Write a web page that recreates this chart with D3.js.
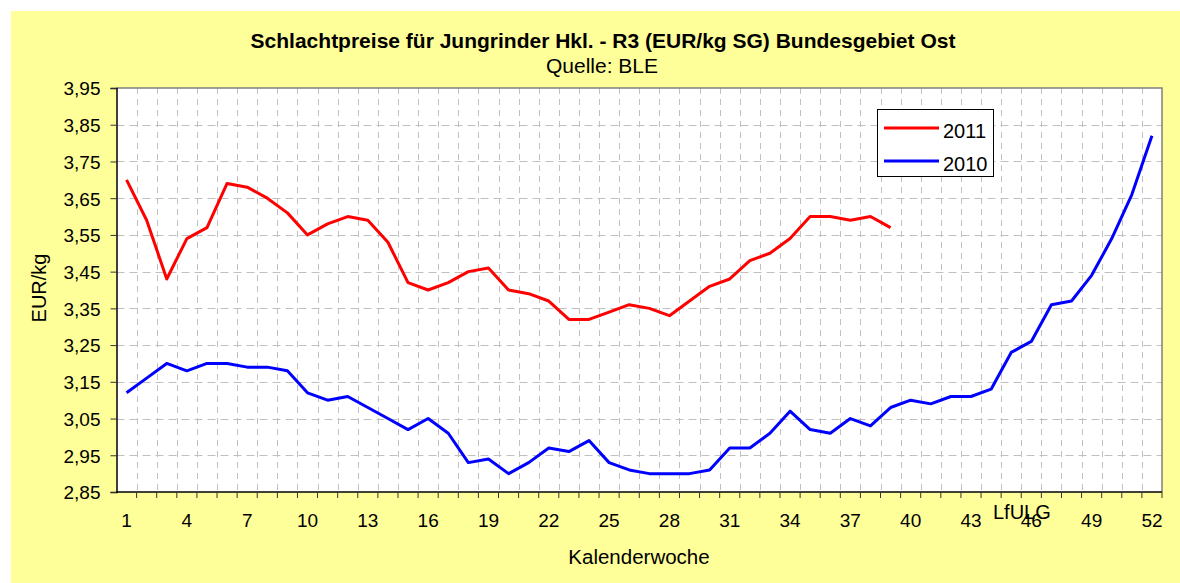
<!DOCTYPE html>
<html>
<head>
<meta charset="utf-8">
<script src="https://cdn.jsdelivr.net/npm/d3@7"></script>
<style>
  body { margin: 0; background: #fff; }
  svg text { font-family: "Liberation Sans", Arial, sans-serif; fill: #000; }
</style>
</head>
<body>
<script>
"use strict";

// Kalenderwochen 1..52
const weeks = [1,2,3,4,5,6,7,8,9,10,11,12,13,14,15,16,17,18,19,20,21,22,23,24,25,26,
  27,28,29,30,31,32,33,34,35,36,37,38,39,40,41,42,43,44,45,46,47,48,49,50,51,52];
const weekLabels = [1,4,7,10,13,16,19,22,25,28,31,34,37,40,43,46,49,52];
const yTicks = [2.85,2.95,3.05,3.15,3.25,3.35,3.45,3.55,3.65,3.75,3.85,3.95];

// EUR/kg SG
const prices2011 = [3.70,3.59,3.43,3.54,3.57,3.69,3.68,3.65,3.61,3.55,3.58,3.60,3.59,
  3.53,3.42,3.40,3.42,3.45,3.46,3.40,3.39,3.37,3.32,3.32,3.34,3.36,3.35,3.33,3.37,
  3.41,3.43,3.48,3.50,3.54,3.60,3.60,3.59,3.60,3.57];
const prices2010 = [3.12,3.16,3.20,3.18,3.20,3.20,3.19,3.19,3.18,3.12,3.10,3.11,3.08,
  3.05,3.02,3.05,3.01,2.93,2.94,2.90,2.93,2.97,2.96,2.99,2.93,2.91,2.90,2.90,2.90,
  2.91,2.97,2.97,3.01,3.07,3.02,3.01,3.05,3.03,3.08,3.10,3.09,3.11,3.11,3.13,3.23,
  3.26,3.36,3.37,3.44,3.54,3.66,3.82];

const W = 1180, H = 583;
const pLeft = 116.5, pRight = 1162, pTop = 88, pBottom = 492;

const svg = d3.select("body").append("svg")
  .attr("width", W).attr("height", H);

// chart background
svg.append("rect").attr("x", 11).attr("y", 11)
  .attr("width", W - 11).attr("height", H - 11)
  .attr("fill", "#FFFF99");

svg.append("rect").attr("x", pLeft).attr("y", pTop)
  .attr("width", pRight - pLeft).attr("height", pBottom - pTop)
  .attr("fill", "#fff");

const x = d3.scaleBand().domain(weeks).range([pLeft, pRight]).padding(0);
const bw = x.bandwidth();
const y = d3.scaleLinear().domain([2.85, 3.95]).range([pBottom, pTop]);

const de = d3.formatLocale({decimal: ",", thousands: ".", grouping: [3], currency: ["", " €"]});
const fmt = de.format(".2f");

// gridlines
svg.append("g").selectAll("line")
  .data(weeks.slice(1))
  .join("line")
  .attr("x1", d => Math.round(x(d)) + 0.5).attr("x2", d => Math.round(x(d)) + 0.5)
  .attr("y1", pTop).attr("y2", pBottom)
  .attr("stroke", "#c0c0c0").attr("stroke-width", 1)
  .attr("stroke-dasharray", "6,5");

svg.append("g").selectAll("line")
  .data(yTicks.slice(1, -1))
  .join("line")
  .attr("x1", pLeft).attr("x2", pRight)
  .attr("y1", d => Math.round(y(d)) + 0.5).attr("y2", d => Math.round(y(d)) + 0.5)
  .attr("stroke", "#c0c0c0").attr("stroke-width", 1)
  .attr("stroke-dasharray", "8,5");

// plot border top / right
svg.append("path")
  .attr("d", `M${pLeft},${pTop}H${pRight}V${pBottom}`)
  .attr("fill", "none").attr("stroke", "#808080").attr("stroke-width", 1.5);

// y axis
const yAxis = svg.append("g")
  .attr("transform", `translate(${pLeft},0)`)
  .call(d3.axisLeft(y).tickValues(yTicks).tickFormat(fmt).tickSize(6).tickPadding(10));
yAxis.select(".domain").attr("stroke", "#000").attr("stroke-width", 1.5);
yAxis.selectAll(".tick line").attr("stroke", "#333");
yAxis.selectAll("text").style("font-size", "19px")
  .attr("font-family", null).attr("dy", "0.36em");

// x axis: tick marks on category boundaries, labels at centers
svg.append("line")
  .attr("x1", pLeft).attr("x2", pRight).attr("y1", pBottom).attr("y2", pBottom)
  .attr("stroke", "#000").attr("stroke-width", 1.5);

svg.append("g").selectAll("line")
  .data(weeks)
  .join("line")
  .attr("x1", d => x(d) + bw).attr("x2", d => x(d) + bw)
  .attr("y1", pBottom).attr("y2", pBottom + 6)
  .attr("stroke", "#333");

const xAxis = svg.append("g")
  .attr("transform", `translate(0,${pBottom})`)
  .call(d3.axisBottom(x).tickValues(weekLabels).tickSize(0).tickPadding(22));
xAxis.select(".domain").remove();
xAxis.selectAll("text").style("font-size", "19px").attr("font-family", null);

// lines
const line = d3.line()
  .x((d, i) => x(weeks[i]) + bw / 2)
  .y(d => y(d));

svg.append("path").datum(prices2010)
  .attr("d", line).attr("fill", "none")
  .attr("stroke", "#0000FF").attr("stroke-width", 3).attr("stroke-linejoin", "round");

svg.append("path").datum(prices2011)
  .attr("d", line).attr("fill", "none")
  .attr("stroke", "#FF0000").attr("stroke-width", 3).attr("stroke-linejoin", "round");

// legend
const legend = svg.append("g");
legend.append("rect").attr("x", 877.5).attr("y", 109.5)
  .attr("width", 116).attr("height", 67)
  .attr("fill", "#fff").attr("stroke", "#000").attr("stroke-width", 1);
[["2011", "#FF0000", 128], ["2010", "#0000FF", 161]].forEach(([name, col, ly]) => {
  legend.append("line").attr("x1", 884).attr("x2", 939).attr("y1", ly).attr("y2", ly)
    .attr("stroke", col).attr("stroke-width", 3);
  legend.append("text").attr("x", 943).attr("y", ly + 4).attr("dy", "0.3em")
    .style("font-size", "20px").text(name);
});

// titles
svg.append("text").attr("x", 603).attr("y", 48)
  .attr("text-anchor", "middle").style("font-size", "21px").style("font-weight", "bold")
  .text("Schlachtpreise für Jungrinder Hkl. - R3 (EUR/kg SG) Bundesgebiet Ost");
svg.append("text").attr("x", 602).attr("y", 72.5)
  .attr("text-anchor", "middle").style("font-size", "21px")
  .text("Quelle: BLE");

svg.append("text").attr("x", 639).attr("y", 564)
  .attr("text-anchor", "middle").style("font-size", "20.5px")
  .text("Kalenderwoche");

svg.append("text")
  .attr("transform", "translate(46,288) rotate(-90)")
  .attr("text-anchor", "middle").style("font-size", "20px")
  .text("EUR/kg");

// Quellvermerk, liegt wie im Original über der 46
svg.append("text").attr("x", 993).attr("y", 519)
  .style("font-size", "20px").text("LfULG");
</script>
</body>
</html>
